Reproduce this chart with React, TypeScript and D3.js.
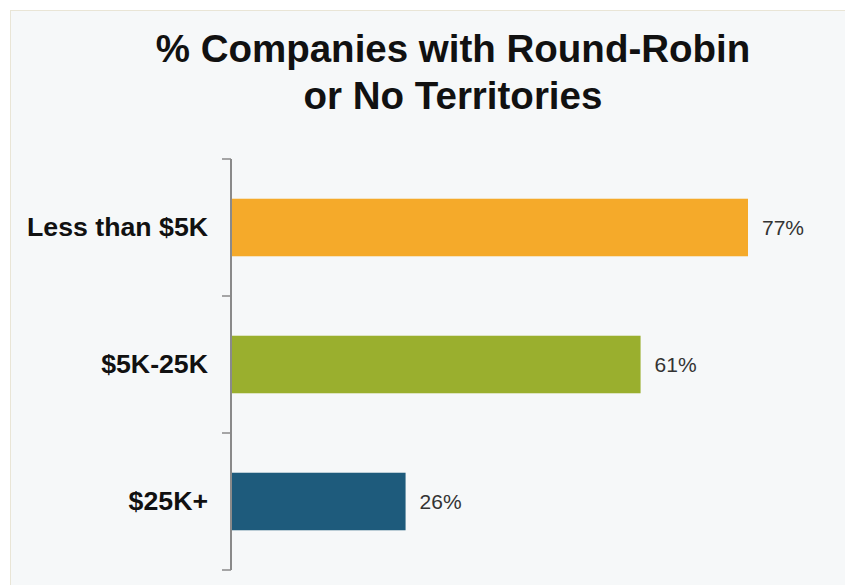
import * as d3 from 'd3';
import { useRef, useEffect } from "react"

const categories = ["Less than $5K", "$5K-25K", "$25K+"]
const values = [77, 61, 26]
const valueLabels = ["77%", "61%", "26%"]
const colors = ["#F5AA2A", "#9AAF2E", "#1E5B7C"]
const titleLines = ["% Companies with Round-Robin", "or No Territories"]

function App() {
    const ref = useRef<SVGSVGElement | null>(null)

    useEffect(() => {
        renderChart();
    }, [])

    function renderChart() {
        const width = 845
        const height = 585
        const axisX = 231

        const svg = d3.select(ref.current!)
        svg.selectAll("*").remove()

        // background panel
        svg.append("rect")
            .attr("width", width).attr("height", height)
            .attr("fill", "#ffffff")
        svg.append("rect")
            .attr("x", 10.5).attr("y", 10.5)
            .attr("width", width).attr("height", height)
            .attr("fill", "#f6f8f9")
            .attr("stroke", "#e9e5d6")

        // title
        svg.append("g")
            .selectAll("text")
            .data(titleLines)
            .enter()
            .append("text")
            .attr("x", 453)
            .attr("y", (_d, i) => 62 + i * 47)
            .attr("text-anchor", "middle")
            .style("font-family", "Arial, 'Liberation Sans', sans-serif")
            .style("font-weight", "bold")
            .style("font-size", "38.5px")
            .style("fill", "#111")
            .text(d => d)

        // scales
        const y = d3.scaleBand<string>()
            .domain(categories)
            .range([159, 570])
            .padding(0)
        const x = d3.scaleLinear()
            .domain([0, 77])
            .range([axisX, 748])

        // y axis with ticks at band boundaries
        const bounds = categories.map(c => y(c)!).concat([570])
        svg.append("line")
            .attr("x1", axisX).attr("x2", axisX)
            .attr("y1", 159).attr("y2", 570)
            .attr("stroke", "#8a8a8a").attr("stroke-width", 2)
        svg.append("g")
            .selectAll("line")
            .data(bounds)
            .enter()
            .append("line")
            .attr("x1", axisX - 9).attr("x2", axisX)
            .attr("y1", d => d).attr("y2", d => d)
            .attr("stroke", "#8a8a8a").attr("stroke-width", 1.5)

        const barH = y.bandwidth() * 0.42
        const data = categories.map((c, i) => ({ c, v: values[i], label: valueLabels[i], color: colors[i] }))

        // bars
        svg.append("g")
            .selectAll("rect")
            .data(data)
            .enter()
            .append("rect")
            .attr("x", axisX + 1)
            .attr("y", d => y(d.c)! + (y.bandwidth() - barH) / 2)
            .attr("width", d => x(d.v) - axisX - 1)
            .attr("height", barH)
            .attr("fill", d => d.color)

        // category labels
        svg.append("g")
            .selectAll("text")
            .data(data)
            .enter()
            .append("text")
            .attr("x", 208)
            .attr("y", d => y(d.c)! + y.bandwidth() / 2 + 8)
            .attr("text-anchor", "end")
            .style("font-family", "Arial, 'Liberation Sans', sans-serif")
            .style("font-weight", "bold")
            .style("font-size", "26.7px")
            .style("fill", "#111")
            .text(d => d.c)

        // value labels
        svg.append("g")
            .selectAll("text")
            .data(data)
            .enter()
            .append("text")
            .attr("x", d => x(d.v) + 14)
            .attr("y", d => y(d.c)! + y.bandwidth() / 2 + 7)
            .style("font-family", "Arial, 'Liberation Sans', sans-serif")
            .style("font-size", "21px")
            .style("fill", "#333")
            .text(d => d.label)
    }

    return (
        <svg
            width={845}
            height={585}
            ref={ref}
            style={{ position: 'absolute', left: 0, top: 0, display: 'block' }}
        />
    )
}

export default App;
